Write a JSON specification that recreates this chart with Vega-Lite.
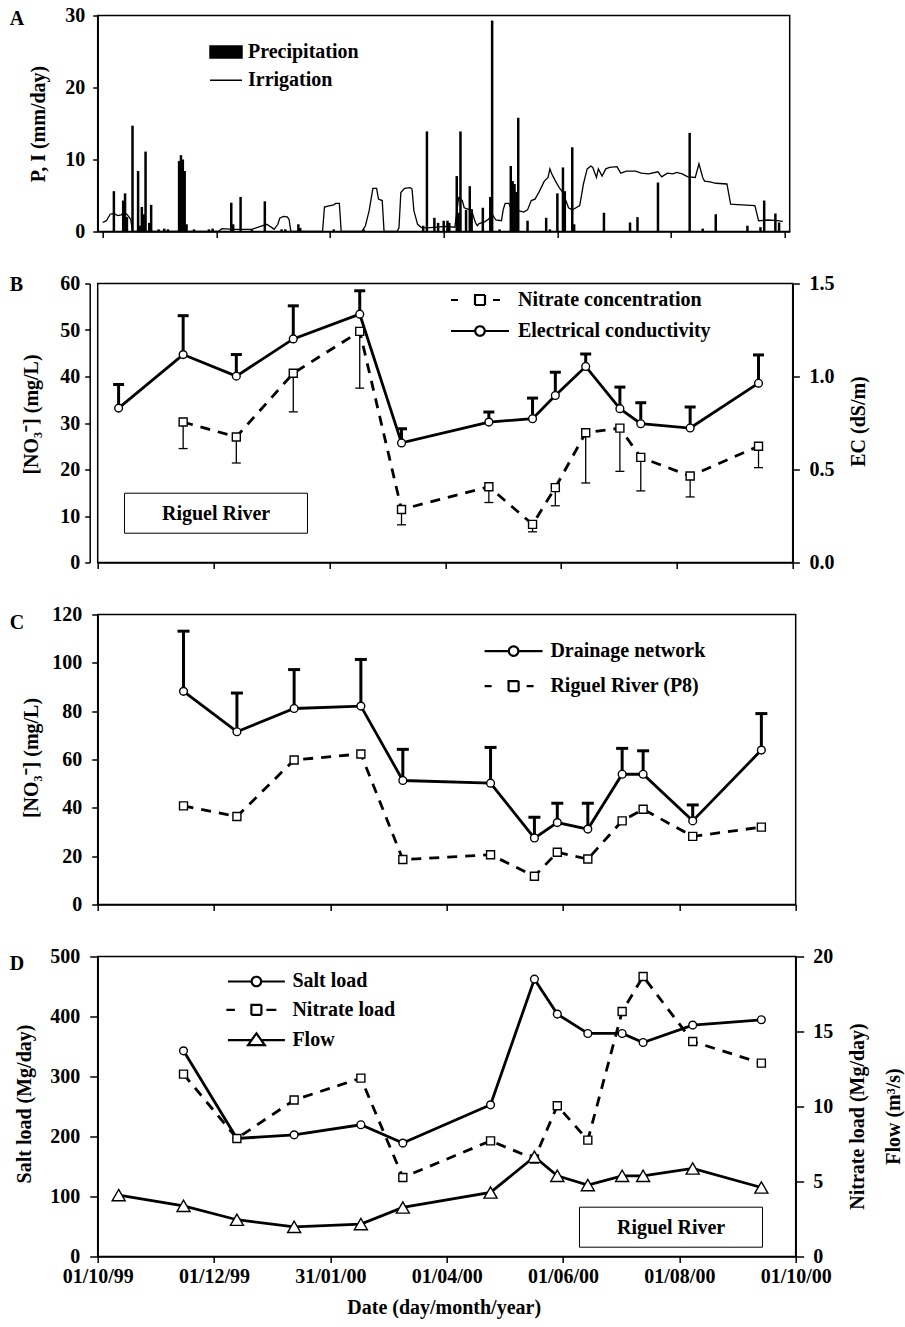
{
  "$schema": "https://vega.github.io/schema/vega-lite/v6.json",
  "padding": {"left": 8.7, "top": 4.5, "right": 2, "bottom": 2},
  "background": "white",
  "bounds": "flush",
  "spacing": 52,
  "config": {
    "font": "Liberation Serif",
    "view": {"stroke": "black", "strokeWidth": 1.5},
    "axis": {"grid": false, "domainColor": "black", "domainWidth": 1.5, "tickColor": "black", "tickWidth": 1.5, "labelColor": "black", "titleColor": "black", "labelFont": "Liberation Serif", "titleFont": "Liberation Serif", "labelFontSize": 20, "titleFontSize": 20, "labelFontWeight": "bold", "titleFontWeight": "bold"},
    "legend": {"labelFont": "Liberation Serif", "labelFontSize": 20, "labelFontWeight": "bold", "labelColor": "black", "labelLimit": 0},
    "title": {"font": "Liberation Serif", "fontSize": 20, "fontWeight": "bold", "color": "black"}
  },
  "datasets": {
    "prec": [
      {"date":"1999-10-07","v":5.6},{"date":"1999-10-12","v":4.3},{"date":"1999-10-13","v":5.3},{"date":"1999-10-14","v":2.0},
      {"date":"1999-10-17","v":14.7},{"date":"1999-10-20","v":8.4},{"date":"1999-10-21","v":0.8},{"date":"1999-10-22","v":3.4},
      {"date":"1999-10-23","v":2.4},{"date":"1999-10-24","v":11.1},{"date":"1999-10-26","v":1.2},{"date":"1999-10-27","v":3.7},
      {"date":"1999-10-31","v":0.3},{"date":"1999-11-03","v":0.4},{"date":"1999-11-05","v":0.3},{"date":"1999-11-11","v":9.8},
      {"date":"1999-11-12","v":10.6},{"date":"1999-11-13","v":10.0},{"date":"1999-11-14","v":8.4},{"date":"1999-11-15","v":1.0},
      {"date":"1999-11-19","v":0.3},{"date":"1999-11-27","v":0.3},{"date":"1999-11-29","v":0.4},{"date":"1999-12-09","v":4.0},
      {"date":"1999-12-10","v":1.0},{"date":"1999-12-14","v":4.8},{"date":"1999-12-20","v":0.3},{"date":"1999-12-27","v":4.2},
      {"date":"2000-01-05","v":0.3},{"date":"2000-01-07","v":0.3},{"date":"2000-01-14","v":1.0},{"date":"2000-01-15","v":0.5},
      {"date":"2000-02-02","v":0.3},{"date":"2000-02-18","v":0.3},{"date":"2000-03-21","v":0.8},{"date":"2000-03-23","v":13.9},
      {"date":"2000-03-27","v":1.9},{"date":"2000-03-29","v":1.2},{"date":"2000-04-01","v":1.5},{"date":"2000-04-03","v":1.5},
      {"date":"2000-04-04","v":1.2},{"date":"2000-04-08","v":7.7},{"date":"2000-04-09","v":2.6},{"date":"2000-04-10","v":13.9},
      {"date":"2000-04-13","v":3.0},{"date":"2000-04-15","v":6.3},{"date":"2000-04-16","v":3.1},{"date":"2000-04-22","v":3.3},
      {"date":"2000-04-26","v":4.8},{"date":"2000-04-27","v":29.3},{"date":"2000-05-01","v":0.3},{"date":"2000-05-07","v":9.1},
      {"date":"2000-05-08","v":7.0},{"date":"2000-05-09","v":6.6},{"date":"2000-05-10","v":5.5},{"date":"2000-05-11","v":15.8},
      {"date":"2000-05-16","v":1.5},{"date":"2000-05-26","v":1.9},{"date":"2000-05-28","v":0.3},{"date":"2000-06-01","v":5.3},
      {"date":"2000-06-04","v":8.9},{"date":"2000-06-05","v":5.6},{"date":"2000-06-09","v":11.7},{"date":"2000-06-10","v":1.0},
      {"date":"2000-06-26","v":2.6},{"date":"2000-07-10","v":1.25},{"date":"2000-07-14","v":2.0},{"date":"2000-07-25","v":6.8},
      {"date":"2000-08-11","v":13.7},{"date":"2000-08-18","v":0.4},{"date":"2000-08-25","v":2.4},{"date":"2000-09-11","v":0.8},
      {"date":"2000-09-18","v":0.6},{"date":"2000-09-20","v":4.3},{"date":"2000-09-26","v":2.5},{"date":"2000-09-28","v":1.25}
    ],
    "irr": [
      {"date":"1999-10-01","v":1.25},{"date":"1999-10-03","v":1.5},{"date":"1999-10-05","v":2.4},{"date":"1999-10-07","v":2.5},
      {"date":"1999-10-09","v":2.2},{"date":"1999-10-11","v":2.3},{"date":"1999-10-12","v":2.6},{"date":"1999-10-14","v":2.4},
      {"date":"1999-10-16","v":1.7},{"date":"1999-10-17","v":0.1},{"date":"1999-10-18","v":0},{"date":"1999-12-02","v":0},
      {"date":"1999-12-04","v":0.4},{"date":"1999-12-10","v":0.3},{"date":"1999-12-20","v":0.3},{"date":"1999-12-28","v":1.0},
      {"date":"1999-12-31","v":0.5},{"date":"2000-01-01","v":0.3},{"date":"2000-01-03","v":1.0},{"date":"2000-01-04","v":1.85},
      {"date":"2000-01-06","v":2.1},{"date":"2000-01-08","v":2.05},{"date":"2000-01-09","v":1.7},{"date":"2000-01-10","v":0},
      {"date":"2000-01-27","v":0},{"date":"2000-01-28","v":3.4},{"date":"2000-01-31","v":3.6},{"date":"2000-02-02","v":3.7},
      {"date":"2000-02-03","v":3.9},{"date":"2000-02-05","v":3.9},{"date":"2000-02-06","v":0},{"date":"2000-02-17","v":0},
      {"date":"2000-02-19","v":0.8},{"date":"2000-02-21","v":2.9},{"date":"2000-02-23","v":6.0},{"date":"2000-02-25","v":6.0},
      {"date":"2000-02-26","v":4.5},{"date":"2000-02-28","v":4.3},{"date":"2000-02-29","v":0},{"date":"2000-03-07","v":0},
      {"date":"2000-03-08","v":0.5},{"date":"2000-03-09","v":5.4},{"date":"2000-03-11","v":6.0},{"date":"2000-03-14","v":6.1},
      {"date":"2000-03-15","v":5.9},{"date":"2000-03-16","v":2.9},{"date":"2000-03-18","v":1.0},{"date":"2000-03-20","v":0.55},
      {"date":"2000-03-23","v":0.5},{"date":"2000-03-28","v":0.6},{"date":"2000-04-02","v":0.7},{"date":"2000-04-07","v":0.6},
      {"date":"2000-04-09","v":4.7},{"date":"2000-04-11","v":4.3},{"date":"2000-04-12","v":3.3},{"date":"2000-04-14","v":3.1},
      {"date":"2000-04-16","v":2.9},{"date":"2000-04-18","v":1.25},{"date":"2000-04-19","v":0.8},{"date":"2000-04-20","v":1.1},
      {"date":"2000-04-23","v":1.35},{"date":"2000-04-25","v":1.7},{"date":"2000-04-27","v":2.4},{"date":"2000-04-29","v":1.6},
      {"date":"2000-05-02","v":1.5},{"date":"2000-05-03","v":3.1},{"date":"2000-05-04","v":3.9},{"date":"2000-05-06","v":3.9},
      {"date":"2000-05-07","v":3.3},{"date":"2000-05-11","v":2.9},{"date":"2000-05-14","v":2.7},{"date":"2000-05-16","v":3.0},
      {"date":"2000-05-18","v":4.3},{"date":"2000-05-20","v":4.5},{"date":"2000-05-22","v":5.4},{"date":"2000-05-25","v":7.0},
      {"date":"2000-05-27","v":7.5},{"date":"2000-05-28","v":8.7},{"date":"2000-05-29","v":8.0},{"date":"2000-05-31","v":7.0},
      {"date":"2000-06-02","v":6.1},{"date":"2000-06-04","v":5.4},{"date":"2000-06-05","v":4.7},{"date":"2000-06-07","v":3.3},
      {"date":"2000-06-09","v":3.0},{"date":"2000-06-11","v":3.3},{"date":"2000-06-13","v":3.6},{"date":"2000-06-15","v":6.6},
      {"date":"2000-06-17","v":8.7},{"date":"2000-06-19","v":9.1},{"date":"2000-06-20","v":8.9},{"date":"2000-06-22","v":7.5},
      {"date":"2000-06-23","v":8.7},{"date":"2000-06-25","v":7.7},{"date":"2000-06-27","v":8.7},{"date":"2000-06-29","v":8.9},
      {"date":"2000-07-03","v":9.0},{"date":"2000-07-05","v":8.1},{"date":"2000-07-08","v":8.4},{"date":"2000-07-13","v":8.4},
      {"date":"2000-07-16","v":8.1},{"date":"2000-07-20","v":8.0},{"date":"2000-07-25","v":8.3},{"date":"2000-07-27","v":7.6},
      {"date":"2000-07-30","v":8.1},{"date":"2000-08-02","v":8.0},{"date":"2000-08-04","v":8.2},{"date":"2000-08-07","v":8.0},
      {"date":"2000-08-10","v":7.6},{"date":"2000-08-14","v":7.5},{"date":"2000-08-16","v":9.4},{"date":"2000-08-18","v":7.5},
      {"date":"2000-08-19","v":7.0},{"date":"2000-08-22","v":6.9},{"date":"2000-08-25","v":6.7},{"date":"2000-08-31","v":6.6},
      {"date":"2000-09-02","v":3.8},{"date":"2000-09-08","v":3.7},{"date":"2000-09-15","v":3.6},{"date":"2000-09-17","v":1.5},
      {"date":"2000-09-22","v":1.6},{"date":"2000-09-27","v":1.5},{"date":"2000-09-30","v":1.4}
    ],
    "b_ec": [
      {"date":"1999-10-12","v":0.83,"end":0.957},{"date":"1999-11-15","v":1.118,"end":1.327},
      {"date":"1999-12-13","v":1.002,"end":1.118},{"date":"2000-01-12","v":1.202,"end":1.38},
      {"date":"2000-02-16","v":1.335,"end":1.461},{"date":"2000-03-09","v":0.643,"end":0.719},
      {"date":"2000-04-24","v":0.755,"end":0.809},{"date":"2000-05-17","v":0.773,"end":0.884},
      {"date":"2000-05-29","v":0.898,"end":1.023},{"date":"2000-06-14","v":1.054,"end":1.121},
      {"date":"2000-07-02","v":0.827,"end":0.943},{"date":"2000-07-13","v":0.746,"end":0.859},
      {"date":"2000-08-08","v":0.723,"end":0.836},{"date":"2000-09-13","v":0.964,"end":1.116}
    ],
    "b_no3": [
      {"date":"1999-11-15","v":30.2,"end":24.5},{"date":"1999-12-13","v":27.0,"end":21.4},
      {"date":"2000-01-12","v":40.7,"end":32.4},{"date":"2000-02-16","v":49.7,"end":37.5},
      {"date":"2000-03-09","v":11.4,"end":8.1},{"date":"2000-04-24","v":16.3,"end":12.9},
      {"date":"2000-05-17","v":8.2,"end":6.6},{"date":"2000-05-29","v":16.1,"end":12.2},
      {"date":"2000-06-14","v":27.9,"end":17.1},{"date":"2000-07-02","v":28.9,"end":19.6},
      {"date":"2000-07-13","v":22.6,"end":15.4},{"date":"2000-08-08","v":18.6,"end":14.1},
      {"date":"2000-09-13","v":25.0,"end":20.4}
    ],
    "c_drain": [
      {"date":"1999-11-15","v":88.2,"end":113.1},{"date":"1999-12-13","v":71.5,"end":87.5},
      {"date":"2000-01-12","v":81.1,"end":97.2},{"date":"2000-02-16","v":82.1,"end":101.4},
      {"date":"2000-03-09","v":51.3,"end":64.2},{"date":"2000-04-24","v":50.2,"end":65.0},
      {"date":"2000-05-17","v":27.5,"end":36.1},{"date":"2000-05-29","v":33.9,"end":41.9},
      {"date":"2000-06-14","v":31.2,"end":41.9},{"date":"2000-07-02","v":53.9,"end":64.6},
      {"date":"2000-07-13","v":53.9,"end":63.6},{"date":"2000-08-08","v":34.6,"end":41.2},
      {"date":"2000-09-13","v":63.9,"end":79.0}
    ],
    "c_p8": [
      {"date":"1999-11-15","v":40.8},{"date":"1999-12-13","v":36.4},{"date":"2000-01-12","v":59.8},
      {"date":"2000-02-16","v":62.3},{"date":"2000-03-09","v":18.6},{"date":"2000-04-24","v":20.6},
      {"date":"2000-05-17","v":11.7},{"date":"2000-05-29","v":21.6},{"date":"2000-06-14","v":18.8},
      {"date":"2000-07-02","v":34.6},{"date":"2000-07-13","v":39.4},{"date":"2000-08-08","v":28.2},
      {"date":"2000-09-13","v":32.0}
    ],
    "d_salt": [
      {"date":"1999-11-15","v":342.8},{"date":"1999-12-13","v":196.7},{"date":"2000-01-12","v":202.8},
      {"date":"2000-02-16","v":219.5},{"date":"2000-03-09","v":189},{"date":"2000-04-24","v":252.8},
      {"date":"2000-05-17","v":462.3},{"date":"2000-05-29","v":404},{"date":"2000-06-14","v":371.7},
      {"date":"2000-07-02","v":371.7},{"date":"2000-07-13","v":356.7},{"date":"2000-08-08","v":385.7},
      {"date":"2000-09-13","v":394.5}
    ],
    "d_nit": [
      {"date":"1999-11-15","v":12.16},{"date":"1999-12-13","v":7.87},{"date":"2000-01-12","v":10.43},
      {"date":"2000-02-16","v":11.89},{"date":"2000-03-09","v":5.27},{"date":"2000-04-24","v":7.71},
      {"date":"2000-05-17","v":6.5},{"date":"2000-05-29","v":10.05},{"date":"2000-06-14","v":7.76},
      {"date":"2000-07-02","v":16.33},{"date":"2000-07-13","v":18.67},{"date":"2000-08-08","v":14.33},
      {"date":"2000-09-13","v":12.89}
    ],
    "d_flow": [
      {"date":"1999-10-12","v":4.09},{"date":"1999-11-15","v":3.38},{"date":"1999-12-13","v":2.45},
      {"date":"2000-01-12","v":1.98},{"date":"2000-02-16","v":2.16},{"date":"2000-03-09","v":3.27},
      {"date":"2000-04-24","v":4.27},{"date":"2000-05-17","v":6.65},{"date":"2000-05-29","v":5.38},
      {"date":"2000-06-14","v":4.76},{"date":"2000-07-02","v":5.38},{"date":"2000-07-13","v":5.38},
      {"date":"2000-08-08","v":5.87},{"date":"2000-09-13","v":4.6}
    ]
  },
  "vconcat": [
    {
      "width": 692, "height": 216,
      "title": {"text": "A", "anchor": "start", "frame": "group", "offset": 0, "dx": -88, "dy": 33, "baseline": "middle"},
      "encoding": {
        "x": {"field": "date", "type": "temporal",
          "scale": {"type": "utc", "nice": false, "domain": [{"year":1999,"month":10,"date":1,"utc":true},{"year":2000,"month":10,"date":1,"utc":true}]},
          "axis": {"values": [{"year":1999,"month":10,"date":1,"utc":true},{"year":1999,"month":12,"date":1,"utc":true},{"year":2000,"month":1,"date":31,"utc":true},{"year":2000,"month":4,"date":1,"utc":true},{"year":2000,"month":6,"date":1,"utc":true},{"year":2000,"month":8,"date":1,"utc":true},{"year":2000,"month":10,"date":1,"utc":true}], "labels": false, "title": null, "tickSize": 6}},
        "y": {"field": "v", "type": "quantitative", "scale": {"domain": [0, 30], "nice": false},
          "axis": {"values": [0, 10, 20, 30], "title": "P, I (mm/day)", "tickSize": 5, "labelPadding": 8, "titleX": -58.7, "titleY": 108, "titleBaseline": "middle"}}
      },
      "layer": [
        {"data": {"name": "prec"}, "mark": {"type": "bar", "size": 2.5},
          "encoding": {"color": {"datum": "Precipitation", "type": "nominal",
            "scale": {"domain": ["Precipitation", "Irrigation"], "range": ["black", "black"]},
            "legend": {"orient": "none", "legendX": 117.3, "legendY": 25.4, "title": null, "symbolSize": 400, "labelOffset": 11, "rowPadding": 7.3, "padding": 0,
              "encode": {"symbols": {"update": {
                "shape": {"signal": "datum.value === 'Precipitation' ? 'M-1.6,-0.6L1.6,-0.6L1.6,0.6L-1.6,0.6Z' : 'M-1.6,0L1.6,0'"},
                "fill": {"signal": "datum.value === 'Precipitation' ? 'black' : 'transparent'"},
                "stroke": {"value": "black"}, "strokeWidth": {"value": 1.5}, "opacity": {"value": 1}}}}}}}},
        {"data": {"name": "irr"}, "mark": {"type": "line", "strokeWidth": 1.3},
          "encoding": {"color": {"datum": "Irrigation", "type": "nominal"}}}
      ]
    },
    {
      "width": 695, "height": 279,
      "title": {"text": "B", "anchor": "start", "frame": "group", "offset": 0, "dx": -88, "dy": 31, "baseline": "middle"},
      "encoding": {
        "x": {"field": "date", "type": "temporal",
          "scale": {"type": "utc", "nice": false, "domain": [{"year":1999,"month":10,"date":1,"utc":true},{"year":2000,"month":10,"date":1,"utc":true}]},
          "axis": {"values": [{"year":1999,"month":10,"date":1,"utc":true},{"year":1999,"month":12,"date":1,"utc":true},{"year":2000,"month":1,"date":31,"utc":true},{"year":2000,"month":4,"date":1,"utc":true},{"year":2000,"month":6,"date":1,"utc":true},{"year":2000,"month":8,"date":1,"utc":true},{"year":2000,"month":10,"date":1,"utc":true}], "labels": false, "title": null, "tickSize": 6}}
      },
      "layer": [
        {
          "data": {"name": "b_no3"},
          "encoding": {"y": {"field": "v", "type": "quantitative", "scale": {"domain": [0, 60], "nice": false},
            "axis": {"orient": "left", "offset": 8, "values": [0, 10, 20, 30, 40, 50, 60], "title": "[NO₃⁻] (mg/L)", "tickSize": 5, "labelPadding": 5, "titleX": -57.7, "titleY": 130.5, "titleBaseline": "middle"}}},
          "layer": [
            {"mark": {"type": "rule", "color": "black", "strokeWidth": 1.3}, "encoding": {"y2": {"field": "end"}}},
            {"mark": {"type": "point", "shape": "M-1,0L1,0", "size": 81, "color": "black", "stroke": "black", "strokeWidth": 1.3, "filled": false, "opacity": 1},
              "encoding": {"y": {"field": "end", "type": "quantitative", "scale": {"domain": [0, 60], "nice": false},
                "axis": {"orient": "left", "offset": 8, "values": [0, 10, 20, 30, 40, 50, 60], "title": "[NO₃⁻] (mg/L)", "tickSize": 5, "labelPadding": 5, "titleX": -57.7, "titleY": 130.5, "titleBaseline": "middle"}}}},
            {"mark": {"type": "line", "strokeWidth": 2.8, "strokeDash": [10, 8]},
              "encoding": {"color": {"datum": "Nitrate concentration", "type": "nominal",
                "scale": {"domain": ["Nitrate concentration", "Electrical conductivity"], "range": ["black", "black"]},
                "legend": {"orient": "none", "legendX": 372.3, "legendY": 6.5, "title": null, "symbolSize": 100, "labelOffset": 28, "rowPadding": 11, "padding": 0,
                  "encode": {"symbols": {"update": {
                    "shape": {"signal": "datum.value === 'Nitrate concentration' ? 'M-5.8,0L-4.4,0M2.6,0L4,0M-1,-1L1,-1L1,1L-1,1Z' : 'M-5.8,0L-0.95,0M0.95,0L5.8,0M-0.95,0A0.95,0.95,0,1,1,0.95,0A0.95,0.95,0,1,1,-0.95,0'"},
                    "fill": {"value": "white"}, "stroke": {"value": "black"}, "strokeWidth": {"value": 2.2}, "strokeDash": {"value": [1, 0]}, "opacity": {"value": 1}}}}}}}},
            {"mark": {"type": "point", "shape": "square", "filled": true, "size": 64, "stroke": "black", "strokeWidth": 1.4, "opacity": 1},
              "encoding": {
                "fill": {"datum": "Riguel River", "type": "nominal",
                  "scale": {"domain": ["Riguel River"], "range": ["white"]},
                  "legend": {"orient": "none", "legendX": 26.3, "legendY": 209.2, "title": null, "symbolType": "M0,0L13.9,0", "symbolSize": 484, "symbolOpacity": 0, "symbolStrokeWidth": 1.5, "labelOffset": 5, "padding": 9, "strokeColor": "black",
                    "encode": {"legend": {"update": {"strokeWidth": {"value": 1.5}}}}}}
              }}
          ]
        },
        {
          "data": {"name": "b_ec"},
          "encoding": {"y": {"field": "v", "type": "quantitative", "scale": {"domain": [0, 1.5], "nice": false},
            "axis": {"orient": "right", "values": [0, 0.5, 1, 1.5], "format": ".1f", "title": "EC (dS/m)", "tickSize": 6.7, "labelPadding": 9.5, "titleX": 66, "titleY": 137.5, "titleAngle": 270, "titleBaseline": "middle"}}},
          "layer": [
            {"mark": {"type": "rule", "color": "black", "strokeWidth": 3}, "encoding": {"y2": {"field": "end"}}},
            {"mark": {"type": "point", "shape": "M-1,0L1,0", "size": 121, "color": "black", "stroke": "black", "strokeWidth": 3, "filled": false, "opacity": 1},
              "encoding": {"y": {"field": "end", "type": "quantitative", "scale": {"domain": [0, 1.5], "nice": false},
                "axis": {"orient": "right", "values": [0, 0.5, 1, 1.5], "format": ".1f", "title": "EC (dS/m)", "tickSize": 6.7, "labelPadding": 9.5, "titleX": 66, "titleY": 137.5, "titleAngle": 270, "titleBaseline": "middle"}}}},
            {"mark": {"type": "line", "strokeWidth": 2.8},
              "encoding": {"color": {"datum": "Electrical conductivity", "type": "nominal"}}},
            {"mark": {"type": "point", "shape": "circle", "filled": true, "size": 60, "stroke": "black", "strokeWidth": 1.4, "opacity": 1},
              "encoding": {"fill": {"datum": "Riguel River", "type": "nominal"}}}
          ]
        }
      ],
      "resolve": {"scale": {"y": "independent"}}
    },
    {
      "width": 698, "height": 290,
      "title": {"text": "C", "anchor": "start", "frame": "group", "offset": 0, "dx": -88, "dy": 38, "baseline": "middle"},
      "encoding": {
        "x": {"field": "date", "type": "temporal",
          "scale": {"type": "utc", "nice": false, "domain": [{"year":1999,"month":10,"date":1,"utc":true},{"year":2000,"month":10,"date":1,"utc":true}]},
          "axis": {"values": [{"year":1999,"month":10,"date":1,"utc":true},{"year":1999,"month":12,"date":1,"utc":true},{"year":2000,"month":1,"date":31,"utc":true},{"year":2000,"month":4,"date":1,"utc":true},{"year":2000,"month":6,"date":1,"utc":true},{"year":2000,"month":8,"date":1,"utc":true},{"year":2000,"month":10,"date":1,"utc":true}], "labels": false, "title": null, "tickSize": 6}},
        "y": {"field": "v", "type": "quantitative", "scale": {"domain": [0, 120], "nice": false},
          "axis": {"values": [0, 20, 40, 60, 80, 100, 120], "title": "[NO₃⁻] (mg/L)", "tickSize": 6, "labelPadding": 10, "titleX": -65.7, "titleY": 143, "titleBaseline": "middle"}}
      },
      "layer": [
        {
          "data": {"name": "c_drain"},
          "layer": [
            {"mark": {"type": "rule", "color": "black", "strokeWidth": 3}, "encoding": {"y2": {"field": "end"}}},
            {"mark": {"type": "point", "shape": "M-1,0L1,0", "size": 144, "color": "black", "stroke": "black", "strokeWidth": 3, "filled": false, "opacity": 1},
              "encoding": {"y": {"field": "end", "type": "quantitative", "scale": {"domain": [0, 120], "nice": false},
                "axis": {"values": [0, 20, 40, 60, 80, 100, 120], "title": "[NO₃⁻] (mg/L)", "tickSize": 6, "labelPadding": 10, "titleX": -65.7, "titleY": 143, "titleBaseline": "middle"}}}},
            {"mark": {"type": "line", "strokeWidth": 2.8},
              "encoding": {"color": {"datum": "Drainage network", "type": "nominal",
                "scale": {"domain": ["Drainage network", "Riguel River (P8)"], "range": ["black", "black"]},
                "legend": {"orient": "none", "legendX": 405.9, "legendY": 26.6, "title": null, "symbolSize": 100, "labelOffset": 26.8, "rowPadding": 15, "padding": 0,
                  "encode": {"symbols": {"update": {
                    "shape": {"signal": "datum.value === 'Riguel River (P8)' ? 'M-5.8,0L-4.4,0M2.6,0L4,0M-1,-1L1,-1L1,1L-1,1Z' : 'M-5.8,0L-0.95,0M0.95,0L5.8,0M-0.95,0A0.95,0.95,0,1,1,0.95,0A0.95,0.95,0,1,1,-0.95,0'"},
                    "fill": {"value": "white"}, "stroke": {"value": "black"}, "strokeWidth": {"value": 2.2}, "strokeDash": {"value": [1, 0]}, "opacity": {"value": 1}}}}}}}},
            {"mark": {"type": "point", "shape": "circle", "filled": true, "fill": "white", "size": 60, "stroke": "black", "strokeWidth": 1.4, "opacity": 1}}
          ]
        },
        {
          "data": {"name": "c_p8"},
          "layer": [
            {"mark": {"type": "line", "strokeWidth": 2.8, "strokeDash": [10, 8]},
              "encoding": {"color": {"datum": "Riguel River (P8)", "type": "nominal"}}},
            {"mark": {"type": "point", "shape": "square", "filled": true, "fill": "white", "size": 64, "stroke": "black", "strokeWidth": 1.4, "opacity": 1}}
          ]
        }
      ]
    },
    {
      "width": 698, "height": 300,
      "title": {"text": "D", "anchor": "start", "frame": "group", "offset": 0, "dx": -88, "dy": 38, "baseline": "middle"},
      "encoding": {
        "x": {"field": "date", "type": "temporal",
          "scale": {"type": "utc", "nice": false, "domain": [{"year":1999,"month":10,"date":1,"utc":true},{"year":2000,"month":10,"date":1,"utc":true}]},
          "axis": {"values": [{"year":1999,"month":10,"date":1,"utc":true},{"year":1999,"month":12,"date":1,"utc":true},{"year":2000,"month":1,"date":31,"utc":true},{"year":2000,"month":4,"date":1,"utc":true},{"year":2000,"month":6,"date":1,"utc":true},{"year":2000,"month":8,"date":1,"utc":true},{"year":2000,"month":10,"date":1,"utc":true}],
            "format": "%d/%m/%y", "labelFlush": false, "labelOverlap": false, "title": "Date (day/month/year)", "tickSize": 6, "labelPadding": 4, "titleX": 346, "titleY": 51.5, "titleBaseline": "middle"}}
      },
      "layer": [
        {
          "data": {"name": "d_salt"},
          "encoding": {"y": {"field": "v", "type": "quantitative", "scale": {"domain": [0, 500], "nice": false},
            "axis": {"orient": "left", "values": [0, 100, 200, 300, 400, 500], "title": "Salt load (Mg/day)", "tickSize": 8, "labelPadding": 10, "titleX": -72.7, "titleY": 147, "titleBaseline": "middle"}}},
          "layer": [
            {"mark": {"type": "line", "strokeWidth": 2.8},
              "encoding": {"color": {"datum": "Salt load", "type": "nominal",
                "scale": {"domain": ["Salt load", "Nitrate load", "Flow"], "range": ["black", "black", "black"]},
                "legend": {"orient": "none", "legendX": 148.7, "legendY": 15, "title": null, "symbolSize": 100, "labelOffset": 26, "rowPadding": 8.3, "padding": 0,
                  "encode": {"symbols": {"update": {
                    "shape": {"signal": "datum.value === 'Nitrate load' ? 'M-6,0L-4.3,0M2,0L4,0M-1,-1L1,-1L1,1L-1,1Z' : datum.value === 'Flow' ? 'M-5.7,0L-1,0M1,0L5.7,0M0,-1.35L1.67,1L-1.67,1Z' : 'M-5.7,0L-0.95,0M0.95,0L5.7,0M-0.95,0A0.95,0.95,0,1,1,0.95,0A0.95,0.95,0,1,1,-0.95,0'"},
                    "fill": {"value": "white"}, "stroke": {"value": "black"}, "strokeWidth": {"value": 2.2}, "strokeDash": {"value": [1, 0]}, "opacity": {"value": 1}}}}}}}},
            {"mark": {"type": "point", "shape": "circle", "filled": true, "size": 60, "stroke": "black", "strokeWidth": 1.4, "opacity": 1},
              "encoding": {
                "fill": {"datum": "Riguel River", "type": "nominal",
                  "scale": {"domain": ["Riguel River"], "range": ["white"]},
                  "legend": {"orient": "none", "legendX": 481.3, "legendY": 250.2, "title": null, "symbolType": "M0,0L13.9,0", "symbolSize": 484, "symbolOpacity": 0, "symbolStrokeWidth": 1.5, "labelOffset": 5, "padding": 9, "strokeColor": "black",
                    "encode": {"legend": {"update": {"strokeWidth": {"value": 1.5}}}}}}
              }}
          ]
        },
        {
          "encoding": {"y": {"field": "v", "type": "quantitative", "scale": {"domain": [0, 20], "nice": false},
            "axis": {"orient": "right", "values": [0, 5, 10, 15, 20], "title": ["Nitrate load (Mg/day)", "Flow (m³/s)"], "titleLineHeight": 36, "tickSize": 8, "labelPadding": 9, "titleX": 62, "titleY": 159.5, "titleAngle": 270, "titleBaseline": "middle"}}},
          "layer": [
            {"data": {"name": "d_nit"},
              "layer": [
                {"mark": {"type": "line", "strokeWidth": 2.8, "strokeDash": [10, 8]},
                  "encoding": {"color": {"datum": "Nitrate load", "type": "nominal"}}},
                {"mark": {"type": "point", "shape": "square", "filled": true, "size": 64, "stroke": "black", "strokeWidth": 1.4, "opacity": 1},
                  "encoding": {"fill": {"datum": "Riguel River", "type": "nominal"}}}
              ]},
            {"data": {"name": "d_flow"},
              "layer": [
                {"mark": {"type": "line", "strokeWidth": 2.8},
                  "encoding": {"color": {"datum": "Flow", "type": "nominal"}}},
                {"mark": {"type": "point", "shape": "triangle-up", "filled": true, "size": 170, "stroke": "black", "strokeWidth": 1.4, "opacity": 1},
                  "encoding": {"fill": {"datum": "Riguel River", "type": "nominal"}}}
              ]}
          ]
        }
      ],
      "resolve": {"scale": {"y": "independent"}}
    }
  ],
  "resolve": {
    "scale": {"x": "independent", "y": "independent", "shape": "independent", "fill": "independent", "color": "independent"},
    "legend": {"shape": "independent", "fill": "independent", "color": "independent"}
  }
}
